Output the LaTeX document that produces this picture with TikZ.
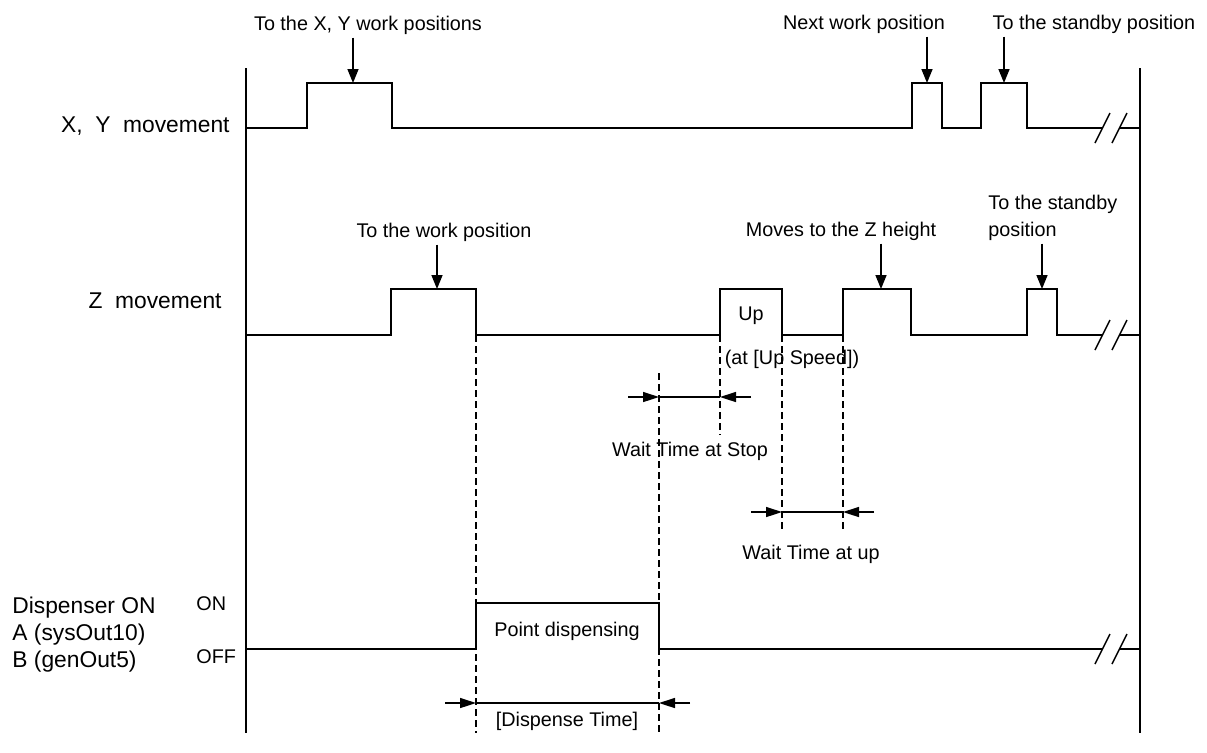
\documentclass[tikz,border=0pt]{standalone}
\usepackage{fontspec}
\setmainfont{Liberation Sans}
\usetikzlibrary{arrows.meta}

\begin{document}
\begin{tikzpicture}[x=0.5pt, y=-0.5pt,
    font=\fontsize{9.9}{13.5}\selectfont,
    signal/.style={line width=0.75pt},
    guide/.style={line width=0.7pt, dash pattern=on 3.5pt off 2pt},
    pointer/.style={line width=0.75pt, -{Triangle[length=7pt,width=5.5pt]}},
    span/.style={line width=0.75pt, -{Triangle[length=8pt,width=5pt]}},
    note/.style={anchor=base, inner sep=1.5pt},
    rowname/.style={font=\fontsize{11.4}{13.5}\selectfont, inner sep=0pt}]
  \useasboundingbox (0,0) rectangle (1207,752);

  % time axes
  \draw[signal] (246,68) -- (246,733);
  \draw[signal] (1140,68) -- (1140,733);

  % row names
  \node[rowname, anchor=base east] (nxy) at (230,132) {X,\ \ Y\ \ movement};
  \node[rowname, anchor=base east] (nz) at (222,308) {Z\ \ movement};
  \node[rowname, anchor=base west, align=left] (ndisp) at (12,667)
    {Dispenser ON\\A (sysOut10)\\B (genOut5)};
  \node[note, anchor=base west, inner sep=0pt] (lon) at (196,610) {ON};
  \node[note, anchor=base west, inner sep=0pt] (loff) at (196,663) {OFF};

  % signals
  \draw[signal] (246,128) -| (307,83) -| (392,128) -| (912,83) -| (942,128)
    -| (981,83) -| (1027,128) -- (1102,128);
  \draw[signal] (246,335) -| (391,289) -| (476,335) -| (720,289) -| (782,335)
    -| (843,289) -| (911,335) -| (1027,289) -| (1057,335) -- (1102,335);
  \draw[signal] (246,649) -| (476,603) -| (659,649) -- (1102,649);

  % breaks
  \foreach \y in {128,335,649} {
    \draw[signal] (1095,\y+15) -- (1110,\y-15);
    \draw[signal] (1112,\y+15) -- (1127,\y-15);
    \draw[signal] (1120,\y) -- (1140,\y);
  }

  % pulse targets
  \coordinate (xy1) at (353,83);
  \coordinate (xy2) at (927,83);
  \coordinate (xy3) at (1004,83);
  \coordinate (z1) at (437,289);
  \coordinate (z2) at (881,289);
  \coordinate (z3) at (1042,289);

  % callouts
  \node[note] (lxy) at (368,30) {To the X, Y work positions};
  \node[note] (lnext) at (864,29) {Next work position};
  \node[note] (lstby) at (1094,29) {To the standby position};
  \node[note] (lwork) at (444,237) {To the work position};
  \node[note] (lzh) at (841,236) {Moves to the Z height};
  \node[note, anchor=base west, align=left] (lstbyz) at (985,236) {To the standby\\position};

  \draw[pointer] (lxy.south -| xy1) -- (xy1);
  \draw[pointer] (lnext.south -| xy2) -- (xy2);
  \draw[pointer] (lstby.south -| xy3) -- (xy3);
  \draw[pointer] (lwork.south -| z1) -- (z1);
  \draw[pointer] (lzh.south -| z2) -- (z2);
  \draw[pointer] (lstbyz.south -| z3) -- (z3);

  % timing guides
  \foreach \x/\a/\b in {476/335/733, 659/373/733, 720/335/435, 782/335/530, 843/335/530}
    \draw[guide] (\x,\a) -- (\x,\b);

  \foreach \a/\b/\y in {659/720/397, 782/843/512, 476/659/703} {
    \draw[span] (\a-31,\y) -- (\a,\y);
    \draw[signal] (\a,\y) -- (\b,\y);
    \draw[span] (\b+31,\y) -- (\b,\y);
  }

  \node[note] (lupbox) at (751,320) {Up};
  \node[note] (lspd) at (792,364) {(at [Up Speed])};
  \node[note] (lstop) at (690,456) {Wait Time at Stop};
  \node[note] (lup) at (811,559) {Wait Time at up};
  \node[note] (lpd) at (567,636) {Point dispensing};
  \node[note] (ldt) at (567,726) {[Dispense Time]};
\end{tikzpicture}
\end{document}
